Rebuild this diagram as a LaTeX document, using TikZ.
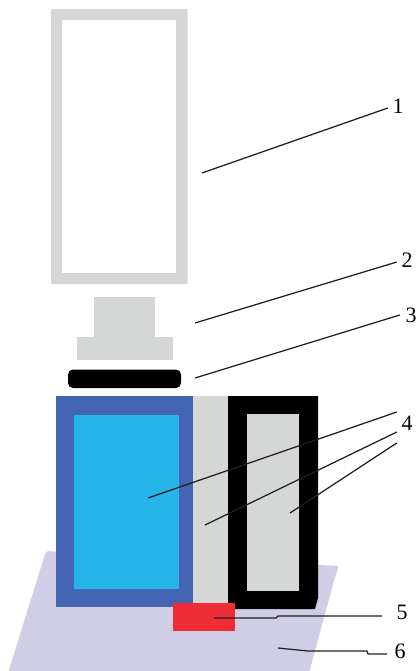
\documentclass[tikz,border=0pt]{standalone}
\usepackage{fontspec}
\setmainfont{Liberation Serif}
\definecolor{partgray}{HTML}{D5D6D6}
\definecolor{jacketblue}{HTML}{4465B4}
\definecolor{tankcyan}{HTML}{27B4E8}
\definecolor{baselilac}{HTML}{CFCEE4}
\definecolor{heatred}{HTML}{EE2C36}
\tikzset{
  leader/.style={draw=black!88,line width=1.25pt},
  callout/.style={inner sep=1pt,font=\fontsize{22}{22}\selectfont}
}

\begin{document}
\begin{tikzpicture}[x=1pt,y=-1pt]
  \useasboundingbox (0,0) rectangle (415,671);
  % Base plate.
  \fill[baselilac,rounded corners=2pt] (46,551) -- (339,566) -- (335,577) -- (309,673) -- (8,673) -- cycle;
  % Upper frame.
  \fill[partgray,even odd rule] (51,9) rectangle (187.5,284) (62,20) rectangle (176,273);
  % Stepped block.
  \fill[partgray] (94,297) rectangle (155,338);
  \fill[partgray] (77,337) rectangle (173,360);
  % Black pad.
  \fill[black,rounded corners=5pt] (68,369.5) rectangle (181,388);
  % Blue jacket and cyan tank.
  \fill[jacketblue] (56,396) rectangle (192.5,607);
  \fill[tankcyan] (74,414.5) rectangle (178.5,589);
  % Gray column.
  \fill[partgray] (192.5,396) rectangle (228,604);
  % Black frame with gray core.
  \fill[black] (228,396) -- (318,396) -- (318,598) -- (315,609) -- (228,609) -- cycle;
  \fill[partgray] (246.5,414) rectangle (299,591);
  % Red block.
  \fill[heatred] (173,603) rectangle (235,631);
  % Free ends of the leaders.
  \coordinate (tip1) at (202,173);
  \coordinate (tip2) at (195,323);
  \coordinate (tip3) at (195,378);
  \coordinate (tip4a) at (148,498);
  \coordinate (tip4b) at (205,525);
  \coordinate (tip4c) at (290,513);
  \coordinate (tip5) at (214,618);
  \coordinate (tip6) at (278,648);
  % Callout numbers.
  \node[callout] (num1) at (398,106) {1};
  \node[callout] (num2) at (407,260) {2};
  \node[callout] (num3) at (411,315) {3};
  \node[callout] (num4) at (407,423) {4};
  \node[callout] (num5) at (402,612) {5};
  \node[callout] (num6) at (400,651) {6};
  % Leaders.
  \draw[leader] (tip1) -- ([shift={(-3.5,2)}]num1.west);
  \draw[leader] (tip2) -- ([shift={(-3.5,2)}]num2.west);
  \draw[leader] (tip3) -- ([shift={(-4.5,0)}]num3.west);
  \draw[leader] (tip4a) -- ([shift={(-3.5,-11)}]num4.west);
  \draw[leader] (tip4b) -- ([shift={(-3.5,9)}]num4.west);
  \draw[leader] (tip4c) -- ([shift={(-3.5,20)}]num4.west);
  \draw[leader] (tip5) -- (276,618) -- (278,616) -- ([shift={(-13.5,4)}]num5.west);
  \draw[leader] (tip6) -- (308,651) -- (367,651) -- (368,654) -- ([shift={(-6.5,3)}]num6.west);
\end{tikzpicture}
\end{document}
